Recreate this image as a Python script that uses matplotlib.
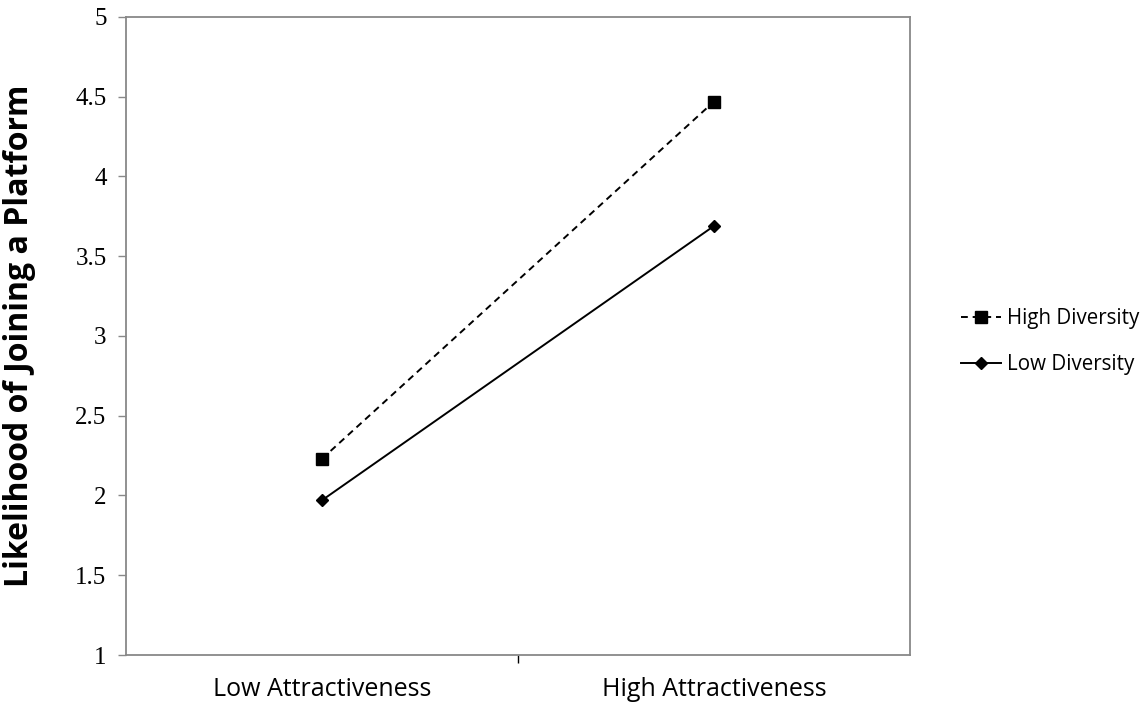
import matplotlib.pyplot as plt

# data
categories = ["Low Attractiveness", "High Attractiveness"]
high_diversity = [2.23, 4.47]
low_diversity = [1.97, 3.69]
yticks = [1, 1.5, 2, 2.5, 3, 3.5, 4, 4.5, 5]

fig = plt.figure(figsize=(11.43, 7.04), dpi=100)
ax = fig.add_axes([0.1102, 0.0696, 0.686, 0.9063])

xpos = [0.5, 1.5]
ax.plot(xpos, high_diversity, color="black", linestyle=(0, (3.5, 2.5)), linewidth=1.4,
        marker="s", markersize=8, label="High Diversity")
ax.plot(xpos, low_diversity, color="black", linestyle="-", linewidth=1.4,
        marker="D", markersize=6, label="Low Diversity")

ax.set_xlim(0, 2)
ax.set_ylim(1, 5)
ax.set_yticks(yticks)
ax.set_yticklabels([f"{t:g}" for t in yticks])
for lbl in ax.get_yticklabels():
    lbl.set_fontfamily(["Liberation Serif", "DejaVu Serif"])
    lbl.set_fontsize(18)
ax.set_xticks([1])
ax.set_xticklabels([""])
ax.tick_params(axis="x", length=6, color="black", width=1)
ax.tick_params(axis="y", length=6, color="#888888", width=1, pad=8)

for i, c in enumerate(categories):
    ax.text(xpos[i], -0.035, c, transform=ax.get_xaxis_transform(), ha="center", va="top",
            family="Open Sans", fontsize=18)

for s in ax.spines.values():
    s.set_color("#888888")
    s.set_linewidth(1.3)

ax.set_ylabel("Likelihood of Joining a Platform", family="Open Sans", fontweight="bold",
              fontsize=23, labelpad=28)

fig.legend(loc="center left", bbox_to_anchor=(0.825, 0.515), frameon=False,
           prop={"family": "Open Sans", "size": 14.8}, handlelength=1.9,
           labelspacing=1.2, handletextpad=0.3)

fig.savefig("out.png", dpi=100)
